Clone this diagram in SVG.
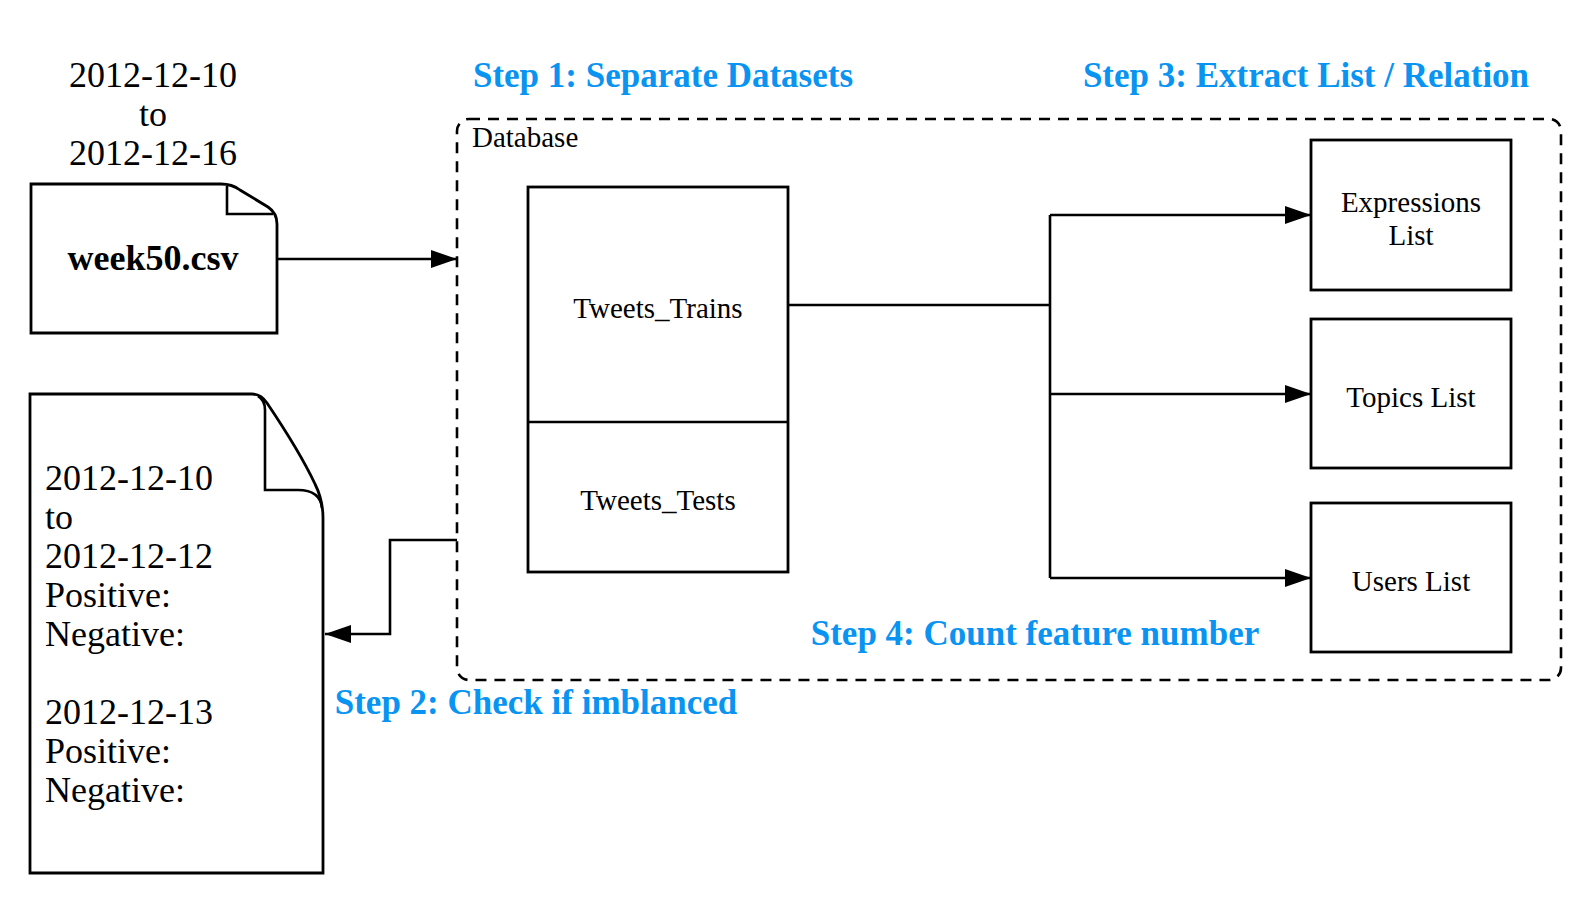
<svg xmlns="http://www.w3.org/2000/svg" width="1594" height="908" viewBox="0 0 1594 908">
<defs>
<marker id="arr" markerUnits="userSpaceOnUse" markerWidth="28" markerHeight="20" refX="26" refY="9" orient="auto">
<path d="M0,0 L26,9 L0,18 z" fill="#000"/>
</marker>
<style>
.t{font-family:"Liberation Serif","Times New Roman",serif;fill:#000}
.lbl{font-size:29px;text-anchor:middle}
.date{font-size:36px}
.step{font-family:"Liberation Serif","Times New Roman",serif;font-size:35px;font-weight:bold;fill:#0a94f2;text-anchor:middle}
.box{fill:#fff;stroke:#000;stroke-width:2.8}
.ln{fill:none;stroke:#000;stroke-width:2.6}
</style>
</defs>
<rect width="1594" height="908" fill="#fff"/>

<g id="database">
<rect x="457" y="119" width="1104" height="561" rx="12" ry="12" fill="none" stroke="#000" stroke-width="2.6" stroke-dasharray="11 8"/>
<text class="t" x="472" y="147" font-size="29">Database</text>
</g>

<g id="date-range">
<text class="t date" x="153" y="87" text-anchor="middle">2012-12-10</text>
<text class="t date" x="153" y="126" text-anchor="middle">to</text>
<text class="t date" x="153" y="165" text-anchor="middle">2012-12-16</text>
</g>

<g id="week50">
<path class="box" d="M31,184 H221 Q232,184 240,190 L268,207 Q277,213 277,224 V333 H31 Z"/>
<path class="ln" d="M227,186 V214 H273"/>
<text class="t" x="153" y="270" font-size="36" font-weight="bold" text-anchor="middle">week50.csv</text>
</g>

<g id="report">
<path class="box" d="M30,394 H252 Q261,394 267,403 Q300,452 315,484 Q323,500 323,518 V873 H30 Z"/>
<path class="ln" d="M258,396 Q265,400 265,410 V490 H298 Q320,490 322,508"/>
<text class="t date" x="45" y="490">2012-12-10</text>
<text class="t date" x="45" y="529">to</text>
<text class="t date" x="45" y="568">2012-12-12</text>
<text class="t date" x="45" y="607">Positive:</text>
<text class="t date" x="45" y="646">Negative:</text>
<text class="t date" x="45" y="724">2012-12-13</text>
<text class="t date" x="45" y="763">Positive:</text>
<text class="t date" x="45" y="802">Negative:</text>
</g>

<g id="tweets">
<rect class="box" x="528" y="187" width="260" height="385"/>
<line class="ln" x1="528" y1="422" x2="788" y2="422"/>
<text class="t lbl" x="658" y="318">Tweets_Trains</text>
<text class="t lbl" x="658" y="510">Tweets_Tests</text>
</g>

<g id="expressions">
<rect class="box" x="1311" y="140" width="200" height="150"/>
<text class="t lbl" x="1411" y="212">Expressions</text>
<text class="t lbl" x="1411" y="245">List</text>
</g>

<g id="topics">
<rect class="box" x="1311" y="319" width="200" height="149"/>
<text class="t lbl" x="1411" y="407">Topics List</text>
</g>

<g id="users">
<rect class="box" x="1311" y="503" width="200" height="149"/>
<text class="t lbl" x="1411" y="591">Users List</text>
</g>

<g id="connectors">
<line class="ln" x1="277" y1="259" x2="457" y2="259" marker-end="url(#arr)"/>
<polyline class="ln" points="457,540 390,540 390,634 325,634" marker-end="url(#arr)"/>
<line class="ln" x1="788" y1="305" x2="1050" y2="305"/>
<line class="ln" x1="1050" y1="215" x2="1050" y2="578"/>
<line class="ln" x1="1050" y1="215" x2="1311" y2="215" marker-end="url(#arr)"/>
<line class="ln" x1="1050" y1="394" x2="1311" y2="394" marker-end="url(#arr)"/>
<line class="ln" x1="1050" y1="578" x2="1311" y2="578" marker-end="url(#arr)"/>
</g>

<g id="labels">
<text class="step" x="663" y="87">Step 1: Separate Datasets</text>
<text class="step" x="1306" y="87">Step 3: Extract List / Relation</text>
<text class="step" x="1035" y="645">Step 4: Count feature number</text>
<text class="step" x="536" y="714">Step 2: Check if imblanced</text>
</g>
</svg>
